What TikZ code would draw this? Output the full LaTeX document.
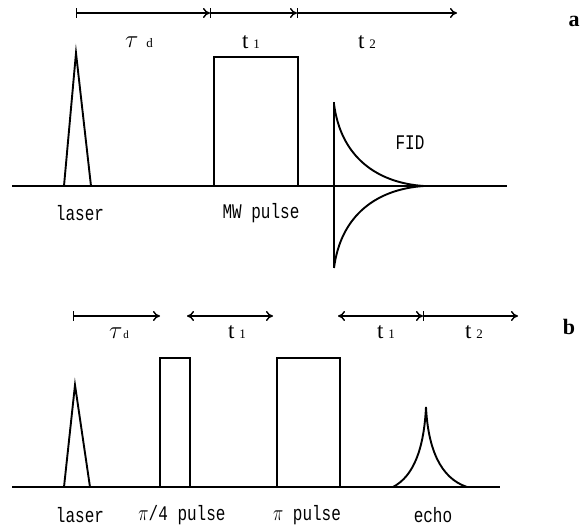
\documentclass[tikz,border=0pt]{standalone}
\usepackage{fontspec}
\setmainfont{Liberation Serif}
\newfontfamily\lblfont{Liberation Mono}
\usetikzlibrary{arrows.meta}
\newcommand{\tall}[1]{\scalebox{1}[1.3]{#1}}
\begin{document}
\begin{tikzpicture}[x=1pt,y=-1pt,
  wave/.style={line width=1.9pt, line join=miter},
  timeline/.style={line width=1.4pt},
  fwd/.style={timeline,-{To[length=7pt,width=10pt]}},
  barfwd/.style={timeline,{Bar[width=10pt]}-{To[length=7pt,width=10pt]}},
  both/.style={timeline,{To[length=7pt,width=10pt]}-{To[length=7pt,width=10pt]}},
  lbl/.style={font=\lblfont\fontsize{16}{16}\selectfont, inner sep=0pt},
  tlbl/.style={font=\fontsize{23}{23}\selectfont, inner sep=0pt},
  panel/.style={font=\bfseries\fontsize{22}{22}\selectfont, inner sep=0pt}]
\useasboundingbox (0,0) rectangle (582,532);

% ---------- panel a ----------
\coordinate (a0) at (76,13);
\coordinate (a1) at (210,13);
\coordinate (a2) at (297,13);
\coordinate (a3) at (457,13);
\draw[barfwd] (a0) -- (a1);
\draw[barfwd] (a1) -- (a2);
\draw[barfwd] (a2) -- (a3);
\node[tlbl] (taud) at (139,42) {$\tau$\hspace{8pt}{\fontsize{13}{13}\selectfont d}};
\node[tlbl] (t1a) at (251,42) {t\hspace{5pt}{\fontsize{13}{13}\selectfont 1}};
\node[tlbl] (t2a) at (367,42) {t\hspace{5pt}{\fontsize{13}{13}\selectfont 2}};
\node[panel] (pa) at (574,21) {a};

\coordinate (aL) at (12,186);
\coordinate (aR) at (507,186);
\draw[wave] (aL) -- (aR);
\draw[wave] (64,186) -- (76,53) -- (91,186);
\draw[wave] (214,186) |- (298,57) -- (298,186);
\draw[wave] (334,102) -- (334,268);
\draw[wave] (334,104) .. controls (341,158) and (378,183) .. (424,186);
\draw[wave] (334,268) .. controls (341,214) and (378,189) .. (424,186);
\node[lbl] (fid) at (410,143) {\tall{FID}};
\node[lbl] (lasera) at (80,213) {\tall{laser}};
\node[lbl] (mw) at (261,213) {\tall{MW pulse}};

% ---------- panel b ----------
\coordinate (b0) at (73,316);
\coordinate (b1) at (160,316);
\coordinate (b2) at (187,316);
\coordinate (b3) at (273,316);
\coordinate (b4) at (338,316);
\coordinate (b5) at (423,316);
\coordinate (b6) at (518,316);
\draw[barfwd] (b0) -- (b1);
\draw[both] (b2) -- (b3);
\draw[both] (b4) -- (b5);
\draw[barfwd] (b5) -- (b6);
\node[tlbl] (taudb) at (119,333) {$\tau$\hspace{1pt}{\fontsize{11}{11}\selectfont d}};
\node[tlbl] (t1b) at (237,332) {t\hspace{5pt}{\fontsize{13}{13}\selectfont 1}};
\node[tlbl] (t1c) at (386,332) {t\hspace{5pt}{\fontsize{13}{13}\selectfont 1}};
\node[tlbl] (t2b) at (474,332) {t\hspace{5pt}{\fontsize{13}{13}\selectfont 2}};
\node[panel] (pb) at (569,327) {b};

\coordinate (bL) at (12,487);
\coordinate (bR) at (500,487);
\draw[wave] (bL) -- (bR);
\draw[wave] (64,487) -- (75,385) -- (90,487);
\draw[wave] (160,487) |- (190,358) -- (190,487);
\draw[wave] (277,487) |- (340,358) -- (340,487);
\draw[wave] (393,487) .. controls (414,476) and (424,448) .. (426,407)
            .. controls (428,448) and (440,478) .. (467,487);
\node[lbl] (laserb) at (80,515) {\tall{laser}};
\node[lbl] (pi4) at (182,515) {\tall{$\pi$/4 pulse}};
\node[lbl] (pip) at (307,515) {\tall{$\pi$ pulse}};
\node[lbl] (echo) at (433,515) {\tall{echo}};
\end{tikzpicture}
\end{document}
